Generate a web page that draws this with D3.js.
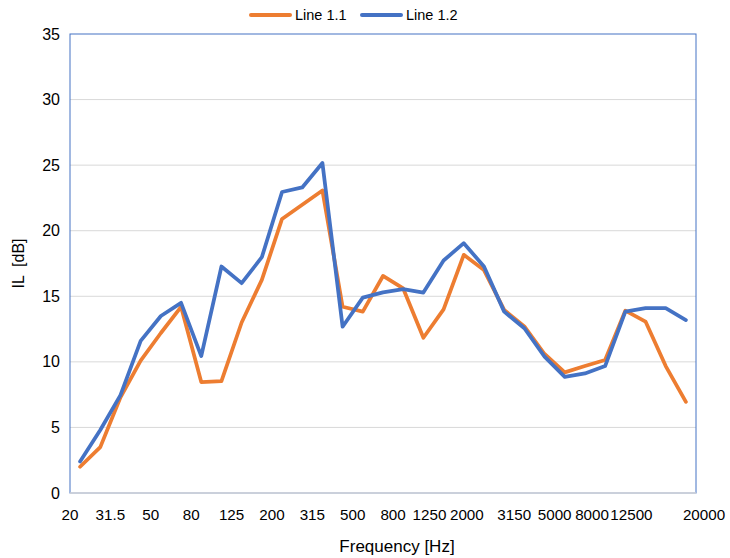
<!DOCTYPE html>
<html>
<head>
<meta charset="utf-8">
<script src="https://cdn.jsdelivr.net/npm/d3@7"></script>
<style>
  html, body { margin: 0; padding: 0; background: #fff; }
  svg { display: block; font-family: "Liberation Sans", Arial, sans-serif; }
</style>
</head>
<body>
<svg id="chart" width="730" height="558"></svg>
<script>
// ---- data ----
const categories = ["20","25","31.5","40","50","63","80","100","125","160","200","250","315","400","500","630","800","1000","1250","1600","2000","2500","3150","4000","5000","6300","8000","10000","12500","16000","20000"];
const line11 = [2.0, 3.5, 7.3, 10.1, 12.2, 14.2, 8.46, 8.53, 13.0, 16.25, 20.9, 21.98, 23.07, 14.2, 13.83, 16.55, 15.6, 11.84, 14.0, 18.16, 17.0, 13.96, 12.7, 10.6, 9.2, 9.68, 10.14, 13.9, 13.07, 9.68, 6.95];
const line12 = [2.4, 4.8, 7.46, 11.6, 13.5, 14.5, 10.44, 17.27, 16.0, 17.98, 22.95, 23.3, 25.16, 12.68, 14.9, 15.3, 15.54, 15.28, 17.73, 19.05, 17.27, 13.83, 12.56, 10.4, 8.86, 9.12, 9.68, 13.83, 14.09, 14.09, 13.19];
const seriesNames = ["Line 1.1", "Line 1.2"];
const xTickLabels = ["20","31.5","50","80","125","200","315","500","800","1250","2000","3150","5000","8000","12500","20000"];
const yTicks = [0, 5, 10, 15, 20, 25, 30, 35];

const colors = ["#ED7D31", "#4472C4"];
const svg = d3.select("#chart");
const L = 70, R = 696, T = 34, B = 493;

const x = d3.scaleLinear().domain([0, categories.length]).range([L, R]);
const y = d3.scaleLinear().domain([0, 35]).range([B, T]);

// gridlines
svg.append("g").selectAll("line").data(yTicks.filter(d => d > 0 && d < 35)).join("line")
  .attr("x1", L).attr("x2", R)
  .attr("y1", d => y(d)).attr("y2", d => y(d))
  .attr("stroke", "#d9d9d9").attr("stroke-width", 1);

// plot border
svg.append("rect").attr("x", L).attr("y", T).attr("width", R - L).attr("height", B - T)
  .attr("fill", "none").attr("stroke", "#4472C4").attr("stroke-width", 1);

// bottom axis line
svg.append("line").attr("x1", L).attr("x2", R).attr("y1", B).attr("y2", B)
  .attr("stroke", "#d9d9d9").attr("stroke-width", 1.5);

// y tick labels
svg.append("g").selectAll("text").data(yTicks).join("text")
  .attr("x", 60).attr("y", d => y(d)).attr("dy", "0.35em")
  .attr("text-anchor", "end").attr("font-size", 16).attr("fill", "#000")
  .text(d => d);

// x tick labels: every other category boundary, last at the axis end
const xTickPos = xTickLabels.map((lab, k) => k === xTickLabels.length - 1 ? categories.length : 2 * k);
const nudgeMap = {9: -4, 10: -7, 13: -3, 14: -4, 15: 8};
svg.append("g").selectAll("text").data(xTickLabels).join("text")
  .attr("x", (d, k) => x(xTickPos[k]) + (nudgeMap[k] || 0))
  .attr("y", 520)
  .attr("text-anchor", "middle").attr("font-size", 15.2).attr("fill", "#000")
  .text(d => d);

// axis titles
svg.append("text").attr("x", 397).attr("y", 552).attr("text-anchor", "middle")
  .attr("font-size", 17).attr("fill", "#000").text("Frequency [Hz]");
svg.append("text").attr("transform", `translate(24, ${(T + B) / 2}) rotate(-90)`)
  .attr("text-anchor", "middle").attr("font-size", 16).attr("fill", "#000")
  .attr("xml:space", "preserve").style("white-space", "pre").text("IL  [dB]");

// lines
const lineGen = d3.line().x((d, i) => x(i + 0.5)).y(d => y(d));
[line11, line12].forEach((s, si) => {
  svg.append("path").datum(s)
    .attr("d", lineGen)
    .attr("fill", "none").attr("stroke", colors[si]).attr("stroke-width", 3.75)
    .attr("stroke-linejoin", "round").attr("stroke-linecap", "round");
});

// legend
const legend = svg.append("g");
const legX = [251, 362];
seriesNames.forEach((n, i) => {
  legend.append("line").attr("x1", legX[i]).attr("x2", legX[i] + 39).attr("y1", 15).attr("y2", 15)
    .attr("stroke", colors[i]).attr("stroke-width", 4).attr("stroke-linecap", "round");
  legend.append("text").attr("x", legX[i] + 44).attr("y", 15).attr("dy", "0.35em")
    .attr("font-size", 14.5).attr("fill", "#000").text(n);
});
</script>
</body>
</html>
